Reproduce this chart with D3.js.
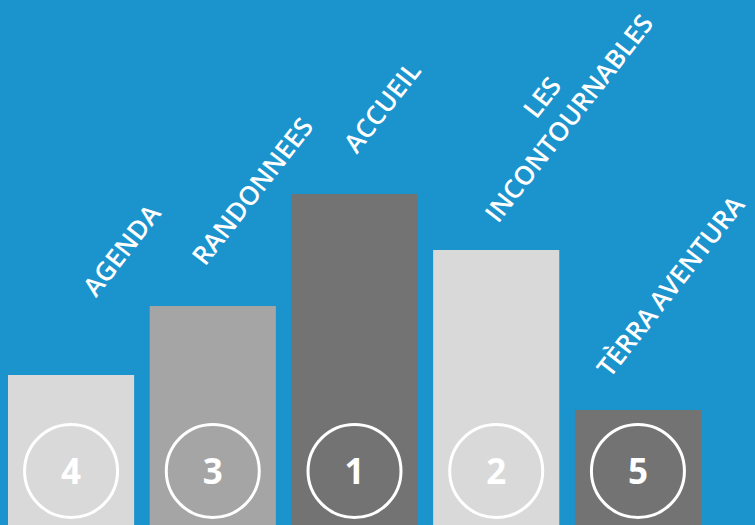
<!DOCTYPE html>
<html>
<head>
<meta charset="utf-8">
<script src="https://cdn.jsdelivr.net/npm/d3@7"></script>
<style>
  body { margin: 0; background: #1b93cd; }
  svg { display: block; }
</style>
</head>
<body>
<script>
// rubriques, ordered as in the picture
var categories = ["AGENDA", "RANDONNEES", "ACCUEIL", "LES INCONTOURNABLES", "TÈRRA AVENTURA"];
var values = [150, 219, 331, 275, 115];
var ranks = [4, 3, 1, 2, 5];
var shades = ["#d9d9d9", "#a5a5a5", "#737373", "#d9d9d9", "#737373"];

// where each rotated label sits, relative to its bar (centre, top)
var labelShift = [[58, -119], [47, -109], [35, -81], [80, -126], [40, -118]];

var width = 755;
var height = 525;

var data = categories.map(function(c, i){
    return {name: c, value: values[i], rank: ranks[i], color: shades[i], shift: labelShift[i]};
});

var x = d3.scaleBand()
    .domain(categories)
    .range([8, 701])
    .paddingInner(0.11)
    .paddingOuter(0);

var y = d3.scaleLinear()
    .domain([0, d3.max(values)])
    .range([height, 194]);

var svg = d3.select('body').append('svg')
    .attr('width', width)
    .attr('height', height);

svg.append('rect')
    .attr('width', width)
    .attr('height', height)
    .attr('fill', '#1b93cd');

var bars = svg.selectAll('g.bar')
    .data(data)
    .enter().append('g')
    .attr('class', 'bar');

bars.append('rect')
    .attr('x', function(d){ return x(d.name); })
    .attr('y', function(d){ return y(d.value); })
    .attr('width', x.bandwidth())
    .attr('height', function(d){ return height - y(d.value); })
    .attr('fill', function(d){ return d.color; });

bars.append('circle')
    .attr('cx', function(d){ return x(d.name) + x.bandwidth() / 2; })
    .attr('cy', 471)
    .attr('r', 46.5)
    .attr('fill', 'none')
    .attr('stroke', '#fff')
    .attr('stroke-width', 3);

bars.append('text')
    .attr('x', function(d){ return x(d.name) + x.bandwidth() / 2; })
    .attr('y', 471)
    .attr('dy', '0.36em')
    .attr('text-anchor', 'middle')
    .attr('fill', '#fff')
    .style('font-family', '"Open Sans", sans-serif')
    .style('font-weight', 700)
    .style('font-size', '35px')
    .text(function(d){ return d.rank; });

var labels = bars.append('text')
    .attr('transform', function(d){
        var cx = x(d.name) + x.bandwidth() / 2 + d.shift[0];
        var cy = y(d.value) + d.shift[1];
        return 'translate(' + cx + ',' + cy + ') rotate(-52)';
    })
    .attr('text-anchor', 'middle')
    .attr('fill', '#fff')
    .style('font-family', '"Open Sans", sans-serif')
    .style('font-weight', 600)
    .style('font-size', '26px')
    .style('word-spacing', '-2px');

// long names break after the first word
labels.each(function(d){
    var words = d.name.split(' ');
    var lines = d.name.length > 16 ? [words[0], words.slice(1).join(' ')] : [d.name];
    var t = d3.select(this);
    lines.forEach(function(line, i){
        t.append('tspan')
            .attr('x', 0)
            .attr('y', (i - lines.length + 1) * 34)
            .text(line);
    });
});
</script>
</body>
</html>
